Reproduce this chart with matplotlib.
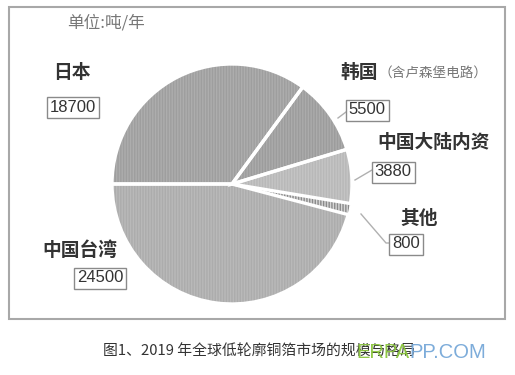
import matplotlib
matplotlib.use("Agg")
import matplotlib.pyplot as plt
from matplotlib.patches import Rectangle

plt.rcParams['font.family'] = ['Noto Sans CJK SC', 'DejaVu Sans']

categories = ['日本', '韩国', '中国大陆内资', '其他', '中国台湾']
values = [18700, 5500, 3880, 800, 24500]
value_labels = ['18700', '5500', '3880', '800', '24500']
colors = ['#adadad', '#ababab', '#c4c4c4', '#d6d6d6', '#b9b9b9']
hatch_colors = ['#9e9e9e', '#9c9c9c', '#b8b8b8', '#8a8a8a', '#acacac']
unit_text = '单位:吨/年'
korea_note = '（含卢森堡电路）'
caption = '图1、2019 年全球低轮廓铜箔市场的规模与格局'

W, H = 515, 375
fig = plt.figure(figsize=(W / 100, H / 100), dpi=100)
ax = fig.add_axes([0, 0, 1, 1])

def Y(py):
    return H - py

cx, cy, R = 232, Y(184), 120
explode = [0.03, 0, 0, 0.04, 0]

ax.pie(values, colors=colors, startangle=180, counterclock=False,
       center=(cx, cy), radius=R, explode=explode,
       wedgeprops=dict(linewidth=0))
wedges2, _ = ax.pie(values, colors=colors, startangle=180, counterclock=False,
                    center=(cx, cy), radius=R, explode=explode,
                    wedgeprops=dict(fill=False, linewidth=0, hatch='||||||'))
for w, hc in zip(wedges2, hatch_colors):
    w.set_edgecolor(hc)
wedges3, _ = ax.pie(values, startangle=180, counterclock=False,
                    center=(cx, cy), radius=R, explode=explode,
                    wedgeprops=dict(fill=False, linewidth=2.4, edgecolor='white'))
wedges3[3].set_linewidth(0.8)

ax.set_xlim(0, W)
ax.set_ylim(0, H)
ax.set_aspect('auto')
ax.axis('off')

# frame
ax.add_patch(Rectangle((9, Y(319)), 496, 312, fill=False, edgecolor='#a8a8a8', lw=1.5))

ax.text(67, Y(23), unit_text, fontsize=12, color='#777777', va='center', ha='left')

lab_kw = dict(fontsize=13.5, fontweight='bold', color='#333333', va='center', ha='left')
box_kw = dict(fontsize=12, color='#333333', va='center', ha='center', family=['Liberation Sans'],
              bbox=dict(boxstyle='square,pad=0.18', facecolor='white', edgecolor='#8a8a8a', lw=1))

label_pos = [(53, 73), (340, 72), (377, 143), (400, 218), (42, 250)]
box_pos = [(73, 107), (367, 110), (393, 172), (406, 244), (100, 278)]
for cat, lab, (lx, ly), (bx, by) in zip(categories, value_labels, label_pos, box_pos):
    ax.text(lx, Y(ly), cat, **lab_kw)
    ax.text(bx, Y(by), lab, **box_kw)

ax.text(379, Y(73), korea_note, fontsize=9.8, color='#777777', va='center', ha='left')

# leader lines
lc = dict(color='#b0b0b0', lw=1)
ax.plot([338, 346], [Y(118), Y(112)], **lc)
ax.plot([355, 372], [Y(180), Y(170)], **lc)
ax.plot([361, 386, 390], [Y(214), Y(243), Y(243)], **lc)

ax.text(103, Y(352), caption, fontsize=10.7, color='#333333', va='center', ha='left', zorder=5)

t1 = ax.text(356, Y(352), 'ERPA', fontsize=14.5, color='#8cc63f', alpha=0.95,
             va='center', ha='left', family=['Liberation Sans'], zorder=10)
fig.canvas.draw()
bb = t1.get_window_extent(fig.canvas.get_renderer())
x_end = ax.transData.inverted().transform((bb.x1, bb.y0))[0]
ax.text(x_end, Y(352), 'PP.COM', fontsize=14.5, color='#76a8d8', alpha=0.95,
        va='center', ha='left', family=['Liberation Sans'], zorder=10)

fig.savefig('out.png', dpi=100)
